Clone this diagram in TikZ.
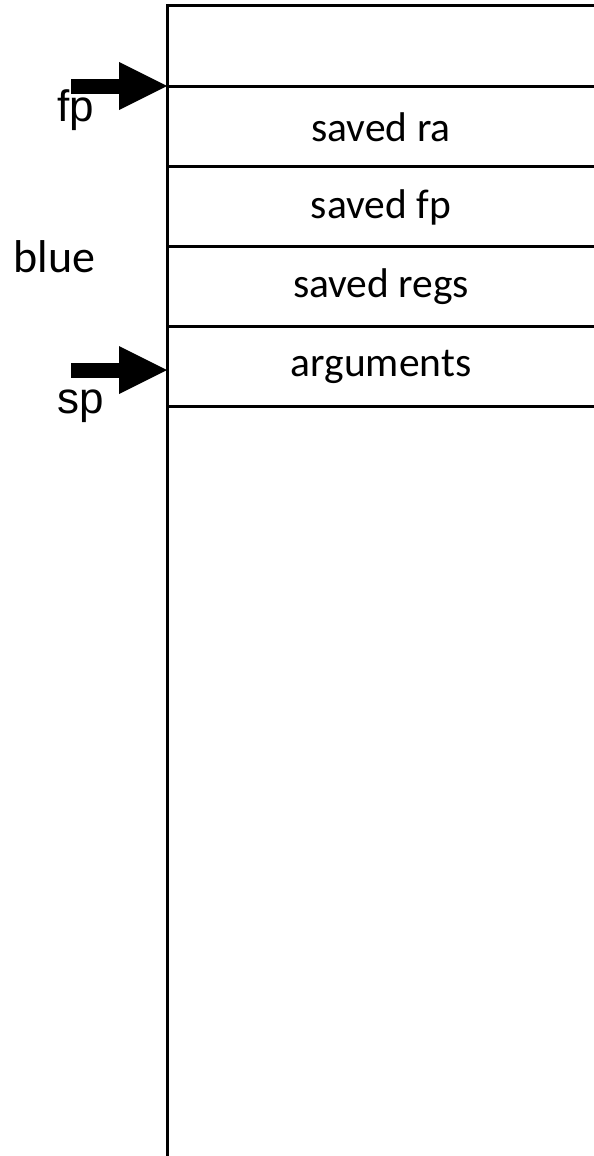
\documentclass[tikz,border=0pt]{standalone}
\usepackage{fontspec}
\setmainfont{Carlito}
\newfontfamily\arialfont{Liberation Sans}
\usetikzlibrary{arrows.meta}

\begin{document}
\begin{tikzpicture}[x=1pt,y=-1pt,line width=3pt,
		cell/.style={font=\fontsize{41.5}{48}\selectfont},
		reg/.style={font=\arialfont\fontsize{44}{52}\selectfont,anchor=base west,inner sep=0pt},
		blockarrow/.style={line width=15pt,-{Triangle[length=48pt,width=48pt,line width=0pt]}}]
		\useasboundingbox (0,0) rectangle (594,1156);
		\newcommand{\xl}{167}
		\newcommand{\xr}{594}
		\draw (\xl,1156) -- (\xl,6) -- (\xr,6); %stack
		\foreach \y in {86,166,...,406}{ %slots
			\draw (\xl,\y) -- (\xr,\y);
		}
		\node[cell] (ra) at (381,127) {saved ra};
		\node[cell] (savedfp) at (381,207) {saved fp};
		\node[cell] (regs) at (381,287) {saved regs};
		\node[cell] (args) at (381,367) {arguments};
		\node[anchor=base west,inner sep=0pt,font=\fontsize{46}{54}\selectfont] (blue) at (12,272) {blue};
		\coordinate (fptail) at (71,86); %fp
		\coordinate (fptip) at (\xl,86);
		\draw[blockarrow] (fptail) -- (fptip);
		\node[reg] (fp) at (56,121) {fp};
		\coordinate (sptail) at (71,370); %sp
		\coordinate (sptip) at (\xl,370);
		\draw[blockarrow] (sptail) -- (sptip);
		\node[reg] (sp) at (56,413) {sp};
	\end{tikzpicture}
\end{document}
